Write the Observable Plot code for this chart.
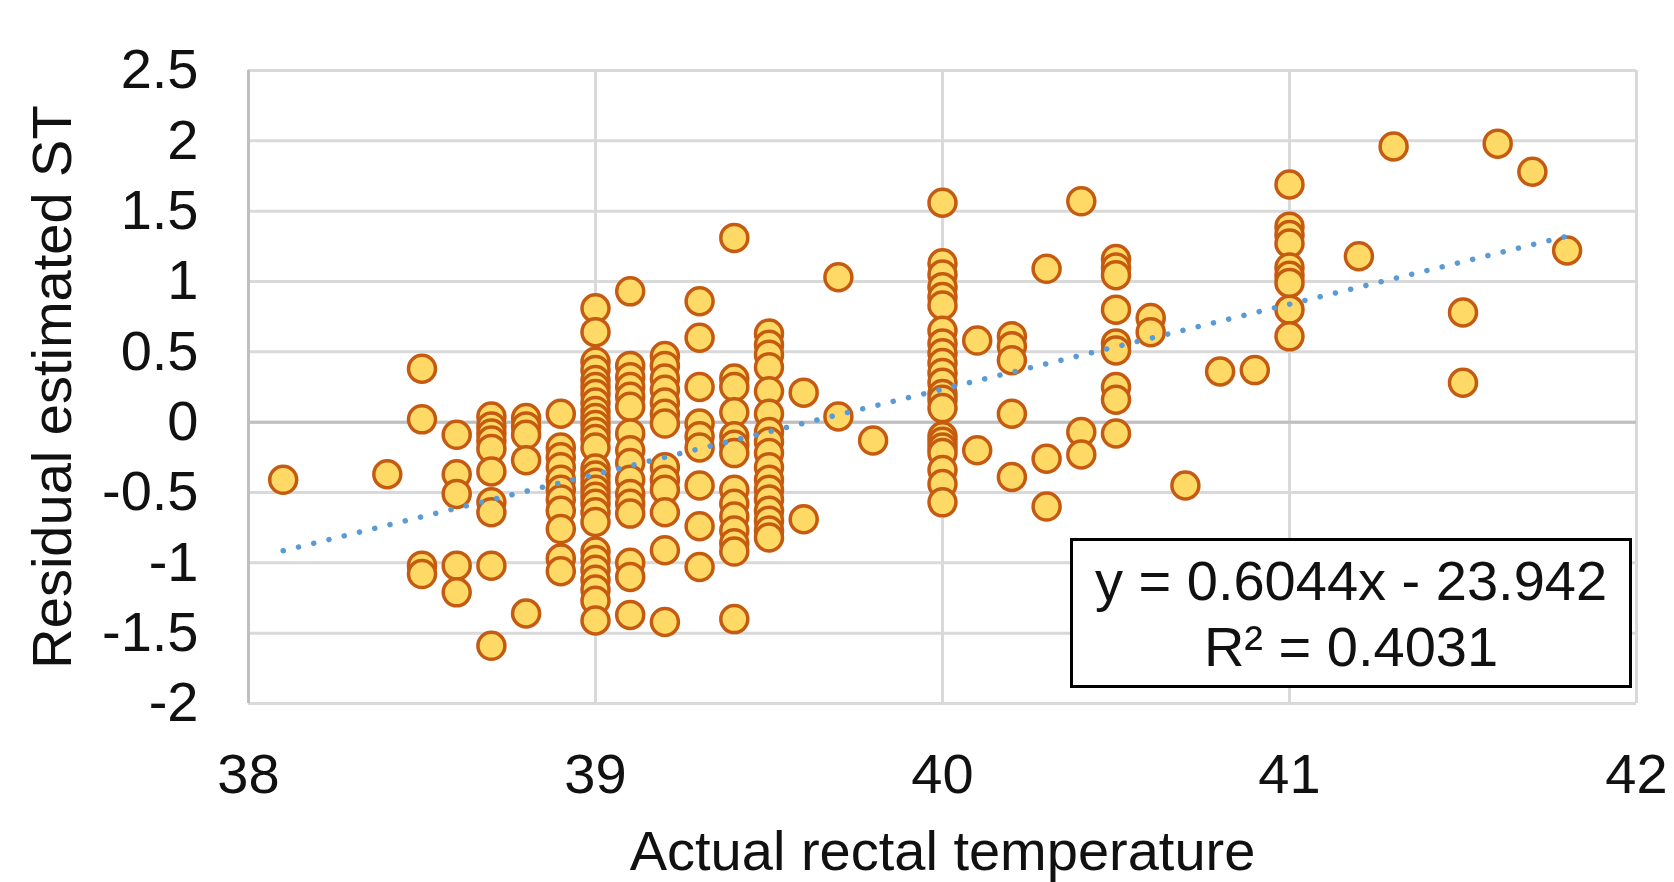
<!DOCTYPE html>
<html>
<head>
<meta charset="utf-8">
<script src="https://cdn.jsdelivr.net/npm/d3@7"></script>
<script src="https://cdn.jsdelivr.net/npm/@observablehq/plot@0.6"></script>
<style>
  html, body { margin: 0; padding: 0; background: #fff; }
  #wrap { position: relative; width: 1674px; height: 882px; overflow: hidden; font-family: "Liberation Sans", Arial, sans-serif; }
  #eq { position: absolute; left: 1070px; top: 538px; width: 562px; height: 150px; box-sizing: border-box;
        border: 3px solid #000; background: #fff; text-align: center; font-size: 56px; line-height: 66px;
        padding-top: 7px; color: #111; }
</style>
</head>
<body>
<div id="wrap"><div id="eq">y = 0.6044x - 23.942<br>R² = 0.4031</div></div>
<script>
// Actual rectal temperature (x) for each column of points
const temps = [38.1, 38.4, 38.5, 38.6, 38.7, 38.8, 38.9, 39.0, 39.1, 39.2, 39.3, 39.4, 39.5, 39.6, 39.7, 39.8,
               40.0, 40.1, 40.2, 40.3, 40.4, 40.5, 40.6, 40.7, 40.8, 40.9, 41.0, 41.2, 41.3, 41.5, 41.6, 41.7, 41.8];
// Residual estimated ST values at each temperature
const residuals = [
  [-0.41],
  [-0.37],
  [0.38, 0.02, -1.02, -1.08],
  [-0.09, -0.37, -0.51, -1.02, -1.21],
  [0.04, -0.03, -0.08, -0.13, -0.19, -0.35, -0.57, -0.64, -1.02, -1.59],
  [0.03, -0.03, -0.09, -0.27, -1.36],
  [0.06, -0.18, -0.25, -0.32, -0.41, -0.48, -0.55, -0.63, -0.76, -0.97, -1.06],
  [0.81, 0.64, 0.43, 0.37, 0.30, 0.25, 0.20, 0.14, 0.08, 0.03, -0.02, -0.07, -0.12, -0.18, -0.33, -0.38, -0.43, -0.48, -0.53, -0.58, -0.64, -0.71, -0.92, -0.98, -1.05, -1.12, -1.19, -1.27, -1.41],
  [0.93, 0.40, 0.32, 0.25, 0.18, 0.11, -0.08, -0.20, -0.29, -0.41, -0.51, -0.58, -0.65, -1.00, -1.10, -1.37],
  [0.47, 0.40, 0.31, 0.23, 0.14, 0.06, -0.01, -0.32, -0.41, -0.48, -0.64, -0.91, -1.42],
  [0.86, 0.60, 0.25, -0.01, -0.10, -0.18, -0.45, -0.74, -1.03],
  [1.31, 0.31, 0.25, 0.07, -0.10, -0.16, -0.22, -0.48, -0.58, -0.67, -0.77, -0.86, -0.92, -1.40],
  [0.63, 0.55, 0.48, 0.39, 0.22, 0.06, -0.07, -0.14, -0.22, -0.32, -0.41, -0.48, -0.55, -0.63, -0.70, -0.77, -0.82],
  [0.21, -0.69],
  [1.03, 0.04],
  [-0.13],
  [1.56, 1.13, 1.05, 0.96, 0.89, 0.83, 0.65, 0.56, 0.49, 0.42, 0.35, 0.28, 0.20, 0.16, 0.10, -0.10, -0.14, -0.18, -0.22, -0.34, -0.44, -0.57],
  [0.58, -0.20],
  [0.61, 0.54, 0.44, 0.06, -0.39],
  [1.09, -0.26, -0.60],
  [1.57, -0.07, -0.23],
  [1.16, 1.10, 1.045, 0.80, 0.56, 0.51, 0.25, 0.16, -0.08],
  [0.74, 0.64],
  [-0.45],
  [0.36],
  [0.37],
  [1.69, 1.39, 1.33, 1.27, 1.10, 1.04, 0.99, 0.80, 0.61],
  [1.18],
  [1.96],
  [0.78, 0.28],
  [1.98],
  [1.78],
  [1.22]
];
// Trendline as printed: y = 0.6044x - 23.942, drawn over the data range
const slope = 0.6044, intercept = -23.942;
const trendX = [38.1, 41.8];
const xTicks = [38, 39, 40, 41, 42];
const yTicks = [-2, -1.5, -1, -0.5, 0, 0.5, 1, 1.5, 2, 2.5];
const xLabel = "Actual rectal temperature";
const yLabel = "Residual estimated ST";

const points = temps.flatMap((t, i) => residuals[i].map(r => ({t, r})));
const trend = trendX.map(t => ({t, r: slope * t + intercept}));

const grid = {stroke: "#d9d9d9", strokeWidth: 3, strokeOpacity: 1};

const chart = Plot.plot({
  width: 1674,
  height: 882,
  marginLeft: 248,
  marginRight: 38,
  marginTop: 70,
  marginBottom: 179,
  style: {fontFamily: "'Liberation Sans', Arial, sans-serif", fontSize: "56px", color: "#111", background: "#fff", overflow: "visible"},
  x: {domain: [38, 42], ticks: xTicks, tickFormat: d => String(d), tickSize: 0, tickPadding: 50, label: null},
  y: {domain: [-2, 2.5], ticks: yTicks, tickFormat: d => String(d), tickSize: 0, tickPadding: 50, label: null},
  marks: [
    Plot.ruleX(xTicks, grid),
    Plot.ruleY(yTicks, grid),
    Plot.ruleY([0], {stroke: "#bfbfbf", strokeWidth: 3}),
    Plot.ruleX([38], {stroke: "#bfbfbf", strokeWidth: 3}),
    Plot.dot(points, {x: "t", y: "r", r: 13.5, fill: "#ffd966", stroke: "#c55a11", strokeWidth: 3.5}),
    Plot.line(trend, {x: "t", y: "r", stroke: "#5b9bd5", strokeWidth: 5.5, strokeDasharray: "0.1 15.6", strokeLinecap: "round"}),
    Plot.text([xLabel], {frameAnchor: "bottom", dy: 127, lineAnchor: "top", fontSize: 56, fill: "#111"}),
    Plot.text([yLabel], {frameAnchor: "left", dx: -195, rotate: -90, textAnchor: "middle", fontSize: 56, fill: "#111"})
  ]
});
document.getElementById("wrap").prepend(chart);
</script>
</body>
</html>
